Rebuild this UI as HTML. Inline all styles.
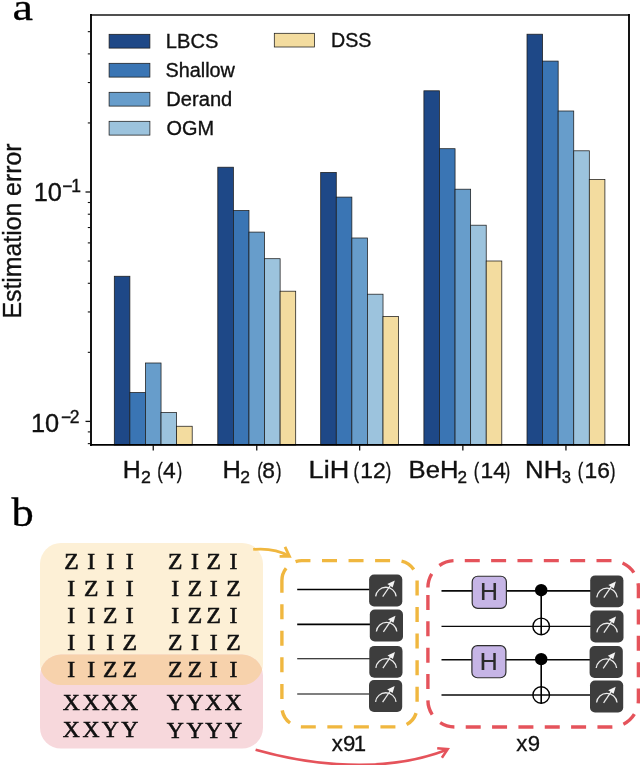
<!DOCTYPE html>
<html><head><meta charset="utf-8"><title>Figure</title>
<style>html,body{margin:0;padding:0;background:#fff}svg{display:block}text{font-kerning:none;white-space:pre}</style>
</head><body>
<svg width="640" height="765" viewBox="0 0 640 765">
<rect width="640" height="765" fill="#fff"/>
<g stroke="#1c1c1c" stroke-width="0.75">
<rect x="114.30" y="276.25" width="15.58" height="168.75" fill="#1e4887"/>
<rect x="129.88" y="392.50" width="15.58" height="52.50" fill="#3a75b4"/>
<rect x="145.46" y="363.00" width="15.58" height="82.00" fill="#679dcb"/>
<rect x="161.04" y="412.50" width="15.58" height="32.50" fill="#9cc3dd"/>
<rect x="176.62" y="426.25" width="15.58" height="18.75" fill="#f3dc9f"/>
<rect x="217.80" y="167.20" width="15.58" height="277.80" fill="#1e4887"/>
<rect x="233.38" y="210.50" width="15.58" height="234.50" fill="#3a75b4"/>
<rect x="248.96" y="232.10" width="15.58" height="212.90" fill="#679dcb"/>
<rect x="264.54" y="258.70" width="15.58" height="186.30" fill="#9cc3dd"/>
<rect x="280.12" y="291.20" width="15.58" height="153.80" fill="#f3dc9f"/>
<rect x="320.70" y="172.40" width="15.58" height="272.60" fill="#1e4887"/>
<rect x="336.28" y="197.10" width="15.58" height="247.90" fill="#3a75b4"/>
<rect x="351.86" y="238.00" width="15.58" height="207.00" fill="#679dcb"/>
<rect x="367.44" y="294.20" width="15.58" height="150.80" fill="#9cc3dd"/>
<rect x="383.02" y="316.40" width="15.58" height="128.60" fill="#f3dc9f"/>
<rect x="423.90" y="90.80" width="15.58" height="354.20" fill="#1e4887"/>
<rect x="439.48" y="148.70" width="15.58" height="296.30" fill="#3a75b4"/>
<rect x="455.06" y="189.20" width="15.58" height="255.80" fill="#679dcb"/>
<rect x="470.64" y="225.20" width="15.58" height="219.80" fill="#9cc3dd"/>
<rect x="486.22" y="261.00" width="15.58" height="184.00" fill="#f3dc9f"/>
<rect x="527.00" y="34.20" width="15.58" height="410.80" fill="#1e4887"/>
<rect x="542.58" y="61.10" width="15.58" height="383.90" fill="#3a75b4"/>
<rect x="558.16" y="111.00" width="15.58" height="334.00" fill="#679dcb"/>
<rect x="573.74" y="150.80" width="15.58" height="294.20" fill="#9cc3dd"/>
<rect x="589.32" y="179.40" width="15.58" height="265.60" fill="#f3dc9f"/>
</g>
<g stroke="#000" stroke-linecap="square"><line x1="91.0" y1="15.0" x2="629.0" y2="15.0" stroke="#161616" stroke-width="1.35"/><line x1="91.0" y1="15.0" x2="91.0" y2="445.0" stroke-width="1.85"/><line x1="629.0" y1="15.0" x2="629.0" y2="445.0" stroke-width="1.85"/><line x1="91.0" y1="444.9" x2="629.0" y2="444.9" stroke-width="1.6"/></g>
<g stroke="#111" stroke-width="1.3">
<line x1="85.5" x2="91.0" y1="192.00" y2="192.00"/>
<line x1="85.5" x2="91.0" y1="421.40" y2="421.40"/>
</g><g stroke="#111" stroke-width="1.1">
<line x1="87.8" x2="91.0" y1="31.66" y2="31.66"/>
<line x1="87.8" x2="91.0" y1="53.89" y2="53.89"/>
<line x1="87.8" x2="91.0" y1="82.55" y2="82.55"/>
<line x1="87.8" x2="91.0" y1="122.94" y2="122.94"/>
<line x1="87.8" x2="91.0" y1="202.50" y2="202.50"/>
<line x1="87.8" x2="91.0" y1="214.23" y2="214.23"/>
<line x1="87.8" x2="91.0" y1="227.53" y2="227.53"/>
<line x1="87.8" x2="91.0" y1="242.89" y2="242.89"/>
<line x1="87.8" x2="91.0" y1="261.06" y2="261.06"/>
<line x1="87.8" x2="91.0" y1="283.29" y2="283.29"/>
<line x1="87.8" x2="91.0" y1="311.95" y2="311.95"/>
<line x1="87.8" x2="91.0" y1="352.34" y2="352.34"/>
<line x1="87.8" x2="91.0" y1="431.90" y2="431.90"/>
<line x1="87.8" x2="91.0" y1="443.63" y2="443.63"/>
<line x1="153.25" x2="153.25" y1="445.0" y2="450.5" stroke-width="1.3"/>
<line x1="256.75" x2="256.75" y1="445.0" y2="450.5" stroke-width="1.3"/>
<line x1="359.65" x2="359.65" y1="445.0" y2="450.5" stroke-width="1.3"/>
<line x1="462.85" x2="462.85" y1="445.0" y2="450.5" stroke-width="1.3"/>
<line x1="565.95" x2="565.95" y1="445.0" y2="450.5" stroke-width="1.3"/>
</g>
<g stroke="#1c1c1c" stroke-width="0.75">
<rect x="109.1" y="34.3" width="40.8" height="13.8" fill="#1e4887"/>
<rect x="109.1" y="63.3" width="40.8" height="13.8" fill="#3a75b4"/>
<rect x="109.1" y="92.3" width="40.8" height="13.8" fill="#679dcb"/>
<rect x="109.1" y="121.3" width="40.8" height="13.8" fill="#9cc3dd"/>
<rect x="274.3" y="33.3" width="40.3" height="13.7" fill="#f3dc9f"/>
</g>
<text transform="translate(165.85,48.00) scale(1.0248,1)" font-family="Liberation Sans, Arial, Helvetica, sans-serif" font-size="19.6" fill="#111" stroke="#111" stroke-width="0.35">LBCS</text>
<text transform="translate(165.50,76.50) scale(1.0119,1)" font-family="Liberation Sans, Arial, Helvetica, sans-serif" font-size="19.6" fill="#111" stroke="#111" stroke-width="0.35">Shallow</text>
<text transform="translate(166.35,106.10) scale(1.0258,1)" font-family="Liberation Sans, Arial, Helvetica, sans-serif" font-size="19.6" fill="#111" stroke="#111" stroke-width="0.35">Derand</text>
<text transform="translate(166.46,134.70) scale(1.0162,1)" font-family="Liberation Sans, Arial, Helvetica, sans-serif" font-size="19.6" fill="#111" stroke="#111" stroke-width="0.35">OGM</text>
<text transform="translate(330.99,47.20) scale(1.0028,1)" font-family="Liberation Sans, Arial, Helvetica, sans-serif" font-size="19.6" fill="#111" stroke="#111" stroke-width="0.35">DSS</text>
<text x="33.67 47.79" y="201.40" font-family="Liberation Sans, Arial, Helvetica, sans-serif" font-size="25.4" fill="#111" stroke="#111" stroke-width="0.35">10</text>
<text x="62.14 71.27" y="191.50" font-family="Liberation Sans, Arial, Helvetica, sans-serif" font-size="17.5" fill="#111" stroke="#111" stroke-width="0.35">−1</text>
<text x="30.97 45.09" y="432.30" font-family="Liberation Sans, Arial, Helvetica, sans-serif" font-size="25.4" fill="#111" stroke="#111" stroke-width="0.35">10</text>
<text x="61.04 69.82" y="422.50" font-family="Liberation Sans, Arial, Helvetica, sans-serif" font-size="17.5" fill="#111" stroke="#111" stroke-width="0.35">−2</text>
<text transform="translate(20.7,318.53) rotate(-90) scale(0.9467,1)" font-family="Liberation Sans, Arial, Helvetica, sans-serif" font-size="26.2" fill="#111" stroke="#111" stroke-width="0.35">Estimation error</text>
<text transform="translate(122.86,477.60) scale(1.0198,1)" font-family="Liberation Sans, Arial, Helvetica, sans-serif" font-size="24.4" fill="#111" stroke="#111" stroke-width="0.35">H</text>
<text transform="translate(141.01,483.30) scale(1.0277,1)" font-family="Liberation Sans, Arial, Helvetica, sans-serif" font-size="17.3" fill="#111" stroke="#111" stroke-width="0.35">2</text>
<text y="477.6" font-family="Liberation Sans, Arial, Helvetica, sans-serif" font-size="22.8" fill="#111" stroke="#111" stroke-width="0.35"><tspan x="157.18" textLength="5.47" lengthAdjust="spacingAndGlyphs">(</tspan><tspan x="163.08">4</tspan><tspan x="176.85" textLength="5.47" lengthAdjust="spacingAndGlyphs">)</tspan></text>
<text transform="translate(222.51,477.60) scale(1.0418,1)" font-family="Liberation Sans, Arial, Helvetica, sans-serif" font-size="24.4" fill="#111" stroke="#111" stroke-width="0.35">H</text>
<text transform="translate(240.32,483.30) scale(1.0151,1)" font-family="Liberation Sans, Arial, Helvetica, sans-serif" font-size="17.3" fill="#111" stroke="#111" stroke-width="0.35">2</text>
<text y="477.6" font-family="Liberation Sans, Arial, Helvetica, sans-serif" font-size="22.8" fill="#111" stroke="#111" stroke-width="0.35"><tspan x="257.28" textLength="5.47" lengthAdjust="spacingAndGlyphs">(</tspan><tspan x="262.31">8</tspan><tspan x="275.95" textLength="5.47" lengthAdjust="spacingAndGlyphs">)</tspan></text>
<text transform="translate(308.58,477.60) scale(1.1097,1)" font-family="Liberation Sans, Arial, Helvetica, sans-serif" font-size="24.4" fill="#111" stroke="#111" stroke-width="0.35">LiH</text>
<text y="477.6" font-family="Liberation Sans, Arial, Helvetica, sans-serif" font-size="22.8" fill="#111" stroke="#111" stroke-width="0.35"><tspan x="353.38" textLength="5.47" lengthAdjust="spacingAndGlyphs">(</tspan><tspan x="360.26">12</tspan><tspan x="385.75" textLength="5.47" lengthAdjust="spacingAndGlyphs">)</tspan></text>
<text transform="translate(408.60,477.60) scale(1.0512,1)" font-family="Liberation Sans, Arial, Helvetica, sans-serif" font-size="24.4" fill="#111" stroke="#111" stroke-width="0.35">BeH</text>
<text transform="translate(457.54,483.30) scale(0.9897,1)" font-family="Liberation Sans, Arial, Helvetica, sans-serif" font-size="17.3" fill="#111" stroke="#111" stroke-width="0.35">2</text>
<text y="477.6" font-family="Liberation Sans, Arial, Helvetica, sans-serif" font-size="22.8" fill="#111" stroke="#111" stroke-width="0.35"><tspan x="473.78" textLength="5.47" lengthAdjust="spacingAndGlyphs">(</tspan><tspan x="480.46">14</tspan><tspan x="504.75" textLength="5.47" lengthAdjust="spacingAndGlyphs">)</tspan></text>
<text transform="translate(525.09,477.60) scale(1.0528,1)" font-family="Liberation Sans, Arial, Helvetica, sans-serif" font-size="24.4" fill="#111" stroke="#111" stroke-width="0.35">NH</text>
<text transform="translate(561.67,483.30) scale(0.9631,1)" font-family="Liberation Sans, Arial, Helvetica, sans-serif" font-size="17.3" fill="#111" stroke="#111" stroke-width="0.35">3</text>
<text y="477.6" font-family="Liberation Sans, Arial, Helvetica, sans-serif" font-size="22.8" fill="#111" stroke="#111" stroke-width="0.35"><tspan x="577.78" textLength="5.47" lengthAdjust="spacingAndGlyphs">(</tspan><tspan x="584.56">16</tspan><tspan x="609.95" textLength="5.47" lengthAdjust="spacingAndGlyphs">)</tspan></text>
<text transform="translate(12.38,19.50) scale(1.2352,1)" font-family="Liberation Serif, Times New Roman, serif" font-size="37.3" fill="#000" stroke="#000" stroke-width="0.3">a</text>
<text transform="translate(11.60,525.60) scale(1.1319,1)" font-family="Liberation Serif, Times New Roman, serif" font-size="39.4" fill="#000" stroke="#000" stroke-width="0.3">b</text>
<defs><clipPath id="cy"><rect x="40" y="543" width="223" height="142" rx="21" ry="21"/></clipPath></defs>
<rect x="40" y="543" width="223" height="142" rx="21" ry="21" fill="#fdf0d6"/>
<rect x="40" y="654.6" width="223" height="94" rx="21" ry="21" fill="#f7d8dc"/>
<rect x="40" y="654.6" width="223" height="94" rx="21" ry="21" fill="#f7d2ac" clip-path="url(#cy)"/>
<text transform="scale(1.02,1)" x="62.90 85.54 104.16 123.28" y="569.10" font-family="Liberation Serif, Times New Roman, serif" font-size="23.2" fill="#111" stroke="#111" stroke-width="0.6">ZIII</text>
<text transform="scale(1.02,1)" x="164.76 187.30 202.50 224.95" y="569.10" font-family="Liberation Serif, Times New Roman, serif" font-size="23.2" fill="#111" stroke="#111" stroke-width="0.6">ZIZI</text>
<text transform="scale(1.02,1)" x="66.03 82.41 104.16 123.28" y="596.50" font-family="Liberation Serif, Times New Roman, serif" font-size="23.2" fill="#111" stroke="#111" stroke-width="0.6">IZII</text>
<text transform="scale(1.02,1)" x="167.89 184.17 205.64 221.82" y="596.50" font-family="Liberation Serif, Times New Roman, serif" font-size="23.2" fill="#111" stroke="#111" stroke-width="0.6">IZIZ</text>
<text transform="scale(1.02,1)" x="66.03 85.54 101.03 123.28" y="623.30" font-family="Liberation Serif, Times New Roman, serif" font-size="23.2" fill="#111" stroke="#111" stroke-width="0.6">IIZI</text>
<text transform="scale(1.02,1)" x="167.89 184.17 202.50 224.95" y="623.30" font-family="Liberation Serif, Times New Roman, serif" font-size="23.2" fill="#111" stroke="#111" stroke-width="0.6">IZZI</text>
<text transform="scale(1.02,1)" x="66.03 85.54 104.16 120.15" y="650.30" font-family="Liberation Serif, Times New Roman, serif" font-size="23.2" fill="#111" stroke="#111" stroke-width="0.6">IIIZ</text>
<text transform="scale(1.02,1)" x="164.76 187.30 205.64 221.82" y="650.30" font-family="Liberation Serif, Times New Roman, serif" font-size="23.2" fill="#111" stroke="#111" stroke-width="0.6">ZIIZ</text>
<text transform="scale(1.02,1)" x="66.03 85.54 101.03 120.15" y="677.20" font-family="Liberation Serif, Times New Roman, serif" font-size="23.2" fill="#111" stroke="#111" stroke-width="0.6">IIZZ</text>
<text transform="scale(1.02,1)" x="164.76 184.17 205.64 224.95" y="677.20" font-family="Liberation Serif, Times New Roman, serif" font-size="23.2" fill="#111" stroke="#111" stroke-width="0.6">ZZII</text>
<text transform="scale(1.02,1)" x="61.48 80.99 99.62 118.73" y="709.90" font-family="Liberation Serif, Times New Roman, serif" font-size="23.2" fill="#111" stroke="#111" stroke-width="0.6">XXXX</text>
<text transform="scale(1.02,1)" x="163.55 182.96 201.09 220.40" y="709.90" font-family="Liberation Serif, Times New Roman, serif" font-size="23.2" fill="#111" stroke="#111" stroke-width="0.6">YYXX</text>
<text transform="scale(1.02,1)" x="61.48 80.99 99.83 118.94" y="736.70" font-family="Liberation Serif, Times New Roman, serif" font-size="23.2" fill="#111" stroke="#111" stroke-width="0.6">XXYY</text>
<text transform="scale(1.02,1)" x="163.55 182.96 201.30 220.61" y="737.90" font-family="Liberation Serif, Times New Roman, serif" font-size="23.2" fill="#111" stroke="#111" stroke-width="0.6">YYYY</text>
<g fill="none" stroke="#f0b73f" stroke-width="2.8" stroke-linecap="butt" stroke-linejoin="miter">
<path d="M253.2 549.4 Q274 547.5 289.2 556.0"/>
<path d="M285 546.9 L289.5 556.4 L279.6 556.3"/>
</g>
<path d="M281.9 580.6 L281.9 706.9 A20 20 0 0 0 301.9 726.9 L397.1 726.9 A20 20 0 0 0 417.1 706.9 L417.1 580.6 A20 20 0 0 0 397.1 560.6 L301.9 560.6 A20 20 0 0 0 281.9 580.6" fill="none" stroke="#f0b73f" stroke-width="3.4" stroke-dasharray="15 11.55" stroke-dashoffset="2.9"/>
<path d="M427.9 587.6 L427.9 700.0 A27 27 0 0 0 454.9 727.0 L611.4 727.0 A27 27 0 0 0 638.4 700.0 L638.4 587.6 A27 27 0 0 0 611.4 560.6 L454.9 560.6 A27 27 0 0 0 427.9 587.6" fill="none" stroke="#e5535b" stroke-width="3.4" stroke-dasharray="15 11.345" stroke-dashoffset="-7.4"/>
<g fill="none" stroke="#e5535b" stroke-width="2.6" stroke-linecap="butt" stroke-linejoin="miter">
<path d="M255.6 749.7 C289.9 759.5 373.5 778.3 447.6 749.5"/>
<path d="M437.2 748.2 L447.7 749.2 L441.9 757.8"/>
</g>
<line x1="297.2" x2="372" y1="589.4" y2="589.4" stroke="#000" stroke-width="1.5"/>
<line x1="297.2" x2="372" y1="624.4" y2="624.4" stroke="#000" stroke-width="1.7"/>
<line x1="297.2" x2="372" y1="658.75" y2="658.75" stroke="#000" stroke-width="1.2"/>
<line x1="297.2" x2="372" y1="694" y2="694" stroke="#000" stroke-width="1.2"/>
<line x1="441.5" x2="592" y1="590.8" y2="590.8" stroke="#0a0a0a" stroke-width="1.7"/>
<line x1="441.5" x2="592" y1="626.4" y2="626.4" stroke="#0a0a0a" stroke-width="1.2"/>
<line x1="441.5" x2="592" y1="659.75" y2="659.75" stroke="#0a0a0a" stroke-width="1.35"/>
<line x1="441.5" x2="592" y1="695" y2="695" stroke="#0a0a0a" stroke-width="1.3"/>
<rect x="369.1" y="574.5" width="33.2" height="31.9" rx="5" ry="5" fill="#3d3d3d"/><path d="M375.66 596.42 A10.3 10.3 0 0 1 396.14 596.42" fill="none" stroke="#ececec" stroke-width="1.3"/><line x1="382.70" y1="596.70" x2="390.30" y2="585.50" stroke="#ececec" stroke-width="1.25"/><polygon points="394.80,580.60 387.30,584.10 392.70,587.60" fill="#f4f4f4"/>
<rect x="369.8" y="609.6" width="33.2" height="31.9" rx="5" ry="5" fill="#3d3d3d"/><path d="M376.36 631.52 A10.3 10.3 0 0 1 396.84 631.52" fill="none" stroke="#ececec" stroke-width="1.3"/><line x1="383.40" y1="631.80" x2="391.00" y2="620.60" stroke="#ececec" stroke-width="1.25"/><polygon points="395.50,615.70 388.00,619.20 393.40,622.70" fill="#f4f4f4"/>
<rect x="369.3" y="645.9" width="33.2" height="31.9" rx="5" ry="5" fill="#3d3d3d"/><path d="M375.86 667.82 A10.3 10.3 0 0 1 396.34 667.82" fill="none" stroke="#ececec" stroke-width="1.3"/><line x1="382.90" y1="668.10" x2="390.50" y2="656.90" stroke="#ececec" stroke-width="1.25"/><polygon points="395.00,652.00 387.50,655.50 392.90,659.00" fill="#f4f4f4"/>
<rect x="369.0" y="680.0" width="33.2" height="31.9" rx="5" ry="5" fill="#3d3d3d"/><path d="M375.56 701.92 A10.3 10.3 0 0 1 396.04 701.92" fill="none" stroke="#ececec" stroke-width="1.3"/><line x1="382.60" y1="702.20" x2="390.20" y2="691.00" stroke="#ececec" stroke-width="1.25"/><polygon points="394.70,686.10 387.20,689.60 392.60,693.10" fill="#f4f4f4"/>
<rect x="590.2" y="575.4" width="33.2" height="31.9" rx="5" ry="5" fill="#3d3d3d"/><path d="M596.76 597.32 A10.3 10.3 0 0 1 617.24 597.32" fill="none" stroke="#ececec" stroke-width="1.3"/><line x1="603.80" y1="597.60" x2="611.40" y2="586.40" stroke="#ececec" stroke-width="1.25"/><polygon points="615.90,581.50 608.40,585.00 613.80,588.50" fill="#f4f4f4"/>
<rect x="590.3" y="610.5" width="33.2" height="31.9" rx="5" ry="5" fill="#3d3d3d"/><path d="M596.86 632.42 A10.3 10.3 0 0 1 617.34 632.42" fill="none" stroke="#ececec" stroke-width="1.3"/><line x1="603.90" y1="632.70" x2="611.50" y2="621.50" stroke="#ececec" stroke-width="1.25"/><polygon points="616.00,616.60 608.50,620.10 613.90,623.60" fill="#f4f4f4"/>
<rect x="589.6" y="646.1" width="33.2" height="31.9" rx="5" ry="5" fill="#3d3d3d"/><path d="M596.16 668.02 A10.3 10.3 0 0 1 616.64 668.02" fill="none" stroke="#ececec" stroke-width="1.3"/><line x1="603.20" y1="668.30" x2="610.80" y2="657.10" stroke="#ececec" stroke-width="1.25"/><polygon points="615.30,652.20 607.80,655.70 613.20,659.20" fill="#f4f4f4"/>
<rect x="590.0" y="680.6" width="33.2" height="31.9" rx="5" ry="5" fill="#3d3d3d"/><path d="M596.56 702.52 A10.3 10.3 0 0 1 617.04 702.52" fill="none" stroke="#ececec" stroke-width="1.3"/><line x1="603.60" y1="702.80" x2="611.20" y2="691.60" stroke="#ececec" stroke-width="1.25"/><polygon points="615.70,686.70 608.20,690.20 613.60,693.70" fill="#f4f4f4"/>
<rect x="472.2" y="576.25" width="34.20" height="32.15" rx="5.5" ry="5.5" fill="#c6b5e6" stroke="#2e2e2e" stroke-width="1.2"/>
<text transform="translate(480.06,600.20) scale(1.0368,1)" font-family="Liberation Sans, Arial, Helvetica, sans-serif" font-size="24.0" fill="#2a2a2a" stroke="#2a2a2a" stroke-width="0.2">H</text>
<rect x="471.9" y="645.6" width="34.00" height="32.15" rx="5.5" ry="5.5" fill="#c6b5e6" stroke="#2e2e2e" stroke-width="1.2"/>
<text transform="translate(479.76,669.90) scale(1.0368,1)" font-family="Liberation Sans, Arial, Helvetica, sans-serif" font-size="24.0" fill="#2a2a2a" stroke="#2a2a2a" stroke-width="0.2">H</text>
<line x1="541.2" x2="541.2" y1="590.8" y2="635.0" stroke="#000" stroke-width="1.6"/>
<circle cx="541.2" cy="590.1999999999999" r="6.2" fill="#000"/>
<circle cx="541.2" cy="626.4" r="8.3" fill="none" stroke="#000" stroke-width="1.4"/>
<line x1="541.2" x2="541.2" y1="659.75" y2="703.6" stroke="#000" stroke-width="1.6"/>
<circle cx="541.2" cy="659.15" r="6.2" fill="#000"/>
<circle cx="541.2" cy="695" r="8.3" fill="none" stroke="#000" stroke-width="1.4"/>
<text x="331.65 342.96 353.71" y="751.30" font-family="Liberation Sans, Arial, Helvetica, sans-serif" font-size="22.2" fill="#111" stroke="#111" stroke-width="0.3">x91</text>
<text x="516.35 527.76" y="751.30" font-family="Liberation Sans, Arial, Helvetica, sans-serif" font-size="22.2" fill="#111" stroke="#111" stroke-width="0.3">x9</text>
</svg>
</body></html>
